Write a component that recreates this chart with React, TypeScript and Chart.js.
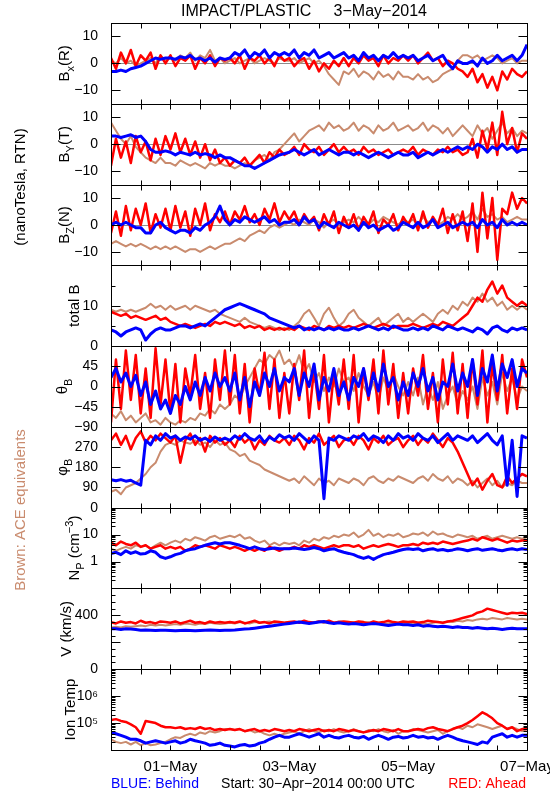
import React, { useEffect, useRef } from 'react';
import { Chart, registerables } from 'chart.js';
Chart.register(...registerables);

const FONT = '"Liberation Sans", Arial, sans-serif';
const RED = '#ff0000';
const BLUE = '#0000ff';
const BROWN = '#c98b6e';

const HOURS = [0,2,4,6,8,10,12,14,16,18,20,22,24,26,28,30,32,34,36,38,40,42,44,46,48,50,52,54,56,58,60,62,64,66,68,70,72,74,76,78,80,82,84,86,88,90,92,94,96,98,100,102,104,106,108,110,112,114,116,118,120,122,124,126,128,130,132,134,136,138,140,142,144,146,148,150,152,154,156,158,160,162,164,166,168];
const X_TICK_HOURS = [12,24,36,48,60,72,84,96,108,120,132,144,156];
const X_LABEL_HOURS = [24,72,120,168];
const X_LABELS = ['01\u2212May','03\u2212May','05\u2212May','07\u2212May'];

const BX_RED = [2,-2,4,0,5,-1,3,1,4,-2,3,0, 3,-1,2,1,3,-2,2,0,3,-1,2,1, 2,0,3,-2,2,1,3,0,2,-1,3,1, 2,-1,1,2,-2,1,-3,0,-2,1,-1,2, -1,2,0,3,1,2,-1,3,0,2,1,3, 1,3,0,2,4,1,2,-1,1,0,-2,-3, -5,-2,-7,-4,-9,-5,-10,-3,-6,-2,-4,-5, -3];
const BX_BLUE = [-3,-3,-2.5,-3,-2,-1.5,-1,0,1,2,1.5,2, 2,1.5,2.5,2,3,1.5,2,1,2,0.5,2,1.5, 2,4,3,5,2,4,3,5,2,4,3,4, 3,5,2,4,3,5,2,3,4,2,3,4, 2,3,1,4,2,3,1,3,2,4,2,3, 2,3,1,2,3,1,2,3,0,-2,1,0, 0,1,-1,2,0,1,3,1,2,3,1,3, 7];
const BX_BROWN = [1,0,2,0,1,-1,0,1,2,0,3,1, 2,1,3,2,4,1,3,2,5,1,2,0, 1,2,0,1,2,0,1,2,1,0,2,1, 1,2,0,1,2,0,1,-1,-4,-6,-8,-3, -4,-2,-5,-3,-4,-6,-3,-5,-4,-6,-3,-5, -5,-6,-4,-6,-5,-7,-6,-4,-3,-2,1,3, 3,2,3,1,2,3,2,0,1,2,0,1, 1];

const BY_RED = [-8,2,-5,1,-7,3,-3,1,-6,2,-4,3, -2,4,-3,2,-4,1,-5,0,-6,-2,-7,-5, -8,-6,-7,-5,-8,-6,-4,-7,-3,-5,-2,-4, -3,-1,-4,0,-2,-3,-1,-4,-2,0,-3,-1, -3,-2,-4,-1,-3,-2,-4,-3,-2,-4,-3,-2, -3,-1,-4,-2,-3,-4,-2,-3,-1,-3,-2,-4, -3,2,-5,5,-2,8,-4,12,0,6,-3,4, 2];
const BY_BLUE = [3,3,2.5,3,3.5,2.5,3,1,-2,-3,-3,-2.5, -3,-4,-3,-3.5,-4,-3,-4,-3.5,-4,-5,-4,-5, -5,-6,-7,-8,-8,-9,-8,-7,-6,-5,-4,-3.5, -3,-2,-3,-4,-3,-2,-4,-3,-2,-3,-4,-3, -3,-4,-3,-4,-5,-4,-3,-4,-5,-4,-3,-4, -4,-3,-5,-4,-3,-4,-3,-2,-3,-2,-1,-2, -1,-2,0,-1,-3,-1,-2,0,-2,-1,-3,-2, -2];
const BY_BROWN = [8,5,2,0,3,-1,-3,-5,-6,-7,-5,-7, -7,-8,-6,-7,-8,-7,-8,-9,-7,-8,-7,-8, -8,-9,-8,-7,-8,-6,-5,-4,-6,-3,-2,0, 2,4,1,3,5,6,7,5,8,6,7,5, 6,8,5,7,6,4,7,5,6,8,5,6, 7,5,6,8,5,7,6,4,6,3,5,7, 5,3,7,4,6,2,5,8,4,6,3,5, 4];

const BZ_RED = [-3,5,-4,7,-2,6,0,8,-3,4,-1,6, -2,7,-1,5,-4,6,0,8,-2,4,1,5, 0,5,2,7,1,4,0,6,2,8,1,5, 2,5,0,4,1,3,-2,4,0,5,-3,3, -1,4,-2,3,0,5,-3,2,0,4,-2,3, 0,4,-2,5,-1,3,0,6,-3,4,-2,5, -6,8,-10,12,-5,10,-13,6,4,12,6,10, 8];
const BZ_BLUE = [0,1,0,1,0,-1,-1,-3,-3,0,1,-1, -2,-3,-2,-2,-3,-1,-2,0,1,3,7,2, 0,2,1,3,2,1,2,3,1,2,0,1, 1,2,0,3,1,2,-1,1,0,-1,1,0, -1,0,-2,1,-1,0,-2,-1,0,-2,-1,1, 0,-1,1,-1,0,2,-1,0,1,-1,0,1, 0,1,-1,2,0,1,-1,2,0,1,0,1, 0];
const BZ_BROWN = [-7,-6,-7,-8,-7,-8,-7,-8,-9,-8,-9,-8, -9,-8,-9,-10,-9,-9,-10,-9,-8,-9,-8,-7, -7,-6,-5,-6,-4,-3,-2,-3,-1,0,-1,0, 1,0,2,1,0,2,1,-1,1,2,0,1, 2,1,3,1,0,2,1,3,2,1,0,2, 1,2,0,3,1,2,0,1,3,2,4,2, 3,5,2,6,3,4,2,3,1,2,3,2, 2];

const BT_RED = [8.5,8,7.5,8,7,7.5,7,6.5,7,7.5,6.5,7, 6,5.5,5,5.5,5,4.5,5,5.5,5,6,5.5,6, 5.5,5,5.5,4.5,5,4.5,5,4,4.5,4,4.5,4, 4.5,4,5,4.5,4,5,4.5,4,5,4.5,5,4.5, 5,4.5,5,5.5,5,4.5,5,5.5,5,4.5,5,5, 5,5.5,5,4.5,5,5.5,5,6,5.5,5,6,7, 8,10,12,11,14,16,13,15,12,11,10,11, 10];
const BT_BLUE = [4,3.5,2.5,3.5,4,4.5,4,1.5,3,4,4.5,4, 4,4.5,5,5,4.5,5,5.5,5,6,7,8,9, 9.5,10,10.5,10,9.5,9,8.5,8,7,6.5,6,5.5, 5,4.5,5,4,4.5,4,4.5,4,4.5,4,4.5,4, 4,4.5,4,4.5,5,4.5,4,4.5,4,5,4.5,4, 4,4.5,4,4.5,4,5,4.5,4,5,4.5,4,4.5, 4,3.5,4.5,4,3,4.5,5,4,3.5,4.5,4,4.5, 4];
const BT_BROWN = [9,8.5,9,8.5,9,8.5,9,9.5,10.5,9.5,10,9, 10,9,9.5,10,9,10,9.5,9,8.5,9,8,7.5, 7,6.5,6,7,6,5.5,5,4.5,5,4.5,4,4.5, 4,5,6,8,9,7,5,8,9.5,7,5,6, 8,9,7,6,5,6,7,5,6,7,8,6, 7,6,7,8,7,6,8,9,8,10,9,11, 10,12,11,13,11,12,10,11,9,10,9,10, 9];

const TH_RED = [-80,60,-50,80,-30,70,-60,40,-70,85,-40,60, -60,50,-80,40,-20,70,-50,30,-70,60,-30,80, -40,70,-60,50,-80,40,-20,75,-50,60,-70,30, -60,50,-30,80,-70,40,-50,70,-80,30,-40,60, -50,70,-80,40,-30,60,-60,80,-40,50,-70,30, -60,40,-20,70,-50,30,-80,60,-40,75,-60,50, -70,60,-40,80,-80,50,-30,70,-60,40,-50,60, 20];
const TH_BLUE = [20,40,10,30,0,25,-20,10,-40,-10,-50,-30, -60,-20,-40,0,-30,10,-20,20,-10,30,0,20, -10,30,-30,20,-45,10,-20,30,0,40,-10,20, 10,40,-20,30,0,50,-30,20,-10,40,-20,10, -30,20,0,40,-20,30,-10,50,0,20,-30,10, -20,30,0,40,-10,20,-30,10,0,50,-10,30, 0,60,-20,40,10,70,-10,50,20,60,0,40, 30];
const TH_BROWN = [-60,-70,-55,-75,-65,-80,-70,-60,-80,-75,-85,-70, -80,-85,-75,-80,-70,-75,-60,-65,-50,-60,-40,-50, -40,-20,-30,0,20,40,60,50,70,60,80,50, 60,40,70,30,50,10,30,-10,20,0,40,10, 20,-10,30,0,-20,10,-30,20,-10,30,0,-20, 10,-20,20,-40,0,-30,10,-50,-20,0,-40,-10, -30,0,-50,20,-20,10,-40,30,-10,20,-30,0, -10];

const PH_RED = [300,330,280,320,260,310,340,290,320,300,330,310, 290,320,200,300,330,280,310,250,320,290,310,280, 300,270,320,290,310,260,300,280,320,300,290,310, 280,320,300,260,310,290,330,280,300,320,270,300, 310,280,320,300,260,310,290,320,280,300,310,270, 300,320,280,310,290,330,300,270,310,290,250,200, 150,100,130,80,120,150,100,90,140,110,130,150, 140];
const PH_BLUE = [125,120,125,118,122,110,100,300,280,320,300,330, 310,320,300,315,305,320,300,310,295,315,300,310, 300,320,305,330,310,300,320,290,315,300,325,310, 320,300,330,310,290,320,300,40,310,300,320,310, 300,320,310,330,300,320,310,290,320,300,330,310, 320,300,330,310,300,320,290,310,330,300,320,310, 300,320,290,310,330,300,280,320,100,300,50,320, 310];
const PH_BROWN = [70,80,60,90,100,110,130,150,180,200,250,280, 290,280,300,290,285,300,280,290,270,300,280,290, 260,250,230,240,210,200,190,170,160,150,140,130, 120,130,110,140,120,100,130,110,120,100,130,120, 110,130,120,100,130,140,120,110,130,120,140,130, 120,110,130,140,120,150,130,120,140,110,130,120, 100,120,90,110,130,100,120,90,110,100,120,110, 110];

const NP_RED = [5,4,5.5,4.5,4,5,3.5,4,3,3.5,4,3, 3.5,3,3.5,2.5,3,4,3.5,4,3.5,3,4,3.5, 3,3.5,3,2.5,3,2.5,3,2.5,3.5,3,2.5,3, 3,3.5,3,4,3.5,4,3.5,3,3.5,4,3.5,4, 4,3.5,4,3,3.5,4,3.5,4,4.5,4,3.5,4, 4,4.5,4,5,4.5,5,4.5,5.5,5,4.5,5,5.5, 6,7,6,8,7,6,7,6,5,6,5.5,6, 6];
const NP_BLUE = [2,2.2,1.8,2.5,2,2.3,1.9,2,2.5,2.2,1.5,1.3, 1.5,1.8,2,2.5,2.8,3,3.5,4,4.5,5,4.5,5, 5,4.5,4,3.5,3,3.5,3,2.8,3,3.2,3,3, 3,3.2,3,2.8,3,3.3,3,2.5,2.8,3,2.5,2.2, 2,1.8,1.5,1.3,1.5,1.2,1.5,1.8,2,2.2,2.5,2.8, 3,2.8,3,2.5,2.8,3,2.6,2.8,2.5,2.7,3,2.8, 2.5,2.8,3,2.6,2.8,3,2.7,2.5,2.8,3,2.7,3, 2.8];
const NP_BROWN = [3,2.5,3,3.5,3,4,3.5,4,3,4,5,4, 5,6,5,7,6,8,7,6,8,9,7,8, 9,8,10,7,8,6,5,6,4,5,4,5, 4.5,5,4,6,5,7,6,8,7,9,8,10, 9,12,8,10,15,9,11,8,10,9,11,8, 9,11,10,12,9,13,10,11,9,8,10,9, 8,9,7,8,9,7,8,9,8,7,8,7, 8];

const V_RED = [350,340,355,345,350,340,360,345,350,340,355,350, 345,355,340,350,360,345,350,340,355,345,350,345, 350,345,355,340,350,360,345,350,340,355,350,345, 350,355,345,360,350,345,355,350,360,345,350,355, 350,345,355,350,340,355,345,350,360,350,345,355, 350,355,345,350,360,355,350,345,355,360,370,380, 390,400,420,430,450,440,430,420,410,420,415,420, 410];
const V_BLUE = [300,300,295,300,298,295,290,292,290,288,290,290, 288,285,288,290,288,285,288,290,292,290,288,290, 290,292,295,298,300,305,310,315,320,325,330,335, 340,345,350,345,340,345,350,355,345,340,345,340, 335,340,335,330,335,340,335,330,325,330,335,330, 330,325,330,320,325,320,315,320,315,310,315,310, 310,305,310,305,300,305,300,295,300,305,300,300, 300];
const V_BROWN = [310,315,310,320,315,320,325,320,330,325,330,325, 330,335,330,340,335,330,340,335,345,340,335,340, 345,340,350,345,340,350,345,350,355,345,350,345, 350,345,355,350,345,350,355,345,350,345,355,350, 345,350,340,345,350,340,345,335,340,345,340,335, 340,335,345,340,335,345,350,345,355,350,360,355, 365,360,370,375,370,380,375,370,380,375,370,375, 370];

const T_RED = [1.3e5,1.4e5,1.2e5,1.1e5,9e4,7e4,4e4,1.2e5,1.1e5,1e5,8e4,7e4, 7e4,6.5e4,7e4,6e4,6.5e4,6e4,7e4,6e4,6.5e4,5.5e4,6e4,5.5e4, 6e4,5.5e4,6e4,5e4,5.5e4,6e4,5e4,5.5e4,5e4,6e4,5.5e4,5e4, 5.5e4,5e4,6e4,5.5e4,5e4,5.5e4,6e4,5e4,5.5e4,5e4,6e4,5.5e4, 5e4,5.5e4,5e4,4.5e4,5e4,5.5e4,5e4,6e4,5.5e4,5e4,6e4,5e4, 5e4,5.5e4,6e4,5.5e4,6.5e4,7e4,6e4,5.5e4,5e4,6e4,7e4,8e4, 1e5,1.3e5,1.8e5,2.5e5,2e5,1.5e5,1e5,8e4,6e4,7e4,5e4,6e4, 6e4];
const T_BLUE = [4.5e4,4e4,3.5e4,3e4,2.5e4,2.5e4,2.2e4,1.8e4,2e4,2.2e4,2e4,1.8e4, 2e4,2.2e4,1.8e4,2e4,2.5e4,2.2e4,2e4,1.8e4,1.5e4,1.6e4,1.8e4,1.5e4, 1.4e4,1.3e4,1.5e4,1.6e4,1.4e4,1.5e4,1.8e4,2e4,2.5e4,3e4,3.5e4,3e4, 3e4,3.5e4,4e4,3.5e4,3e4,3.5e4,4e4,3e4,3.5e4,3e4,2.8e4,3.2e4, 3.5e4,3e4,2.8e4,3.2e4,2.5e4,3e4,3.5e4,3e4,2.5e4,3e4,3.2e4,2.8e4, 3e4,3.5e4,3e4,3.2e4,2.8e4,3e4,2.5e4,3e4,3.5e4,3e4,2.5e4,2.2e4, 2e4,1.8e4,1.6e4,2e4,1.8e4,3e4,3.5e4,4e4,3e4,3.5e4,3e4,3.5e4, 3.5e4];
const T_BROWN = [2.5e4,2e4,1.8e4,2e4,1.6e4,2e4,1.5e4,1.8e4,1.5e4,1.6e4,1.8e4,2e4, 2.5e4,3e4,2.8e4,3.5e4,4e4,3.5e4,4.5e4,4e4,5e4,4.5e4,5e4,6e4, 6e4,5.5e4,6e4,5e4,5.5e4,4.5e4,5e4,4e4,3.5e4,4e4,3.5e4,4e4, 4.5e4,5e4,4e4,5e4,6e4,5e4,4.5e4,5.5e4,5e4,6e4,5e4,4.5e4, 5e4,6e4,5e4,4.5e4,5.5e4,5e4,6e4,5e4,4.5e4,5.5e4,4e4,5e4, 5e4,6e4,5.5e4,5e4,4.5e4,5e4,5.5e4,4e4,5e4,6e4,7e4,6e4, 8e4,7e4,9e4,8e4,7e4,6e4,7e4,8e4,6e4,7e4,6e4,5e4, 6e4];

const LOG_MINOR_NP = [0.2,0.3,0.4,0.5,0.6,0.7,0.8,0.9,2,3,4,5,6,7,8,9,20,30,40,50,60,70,80,90];
const LOG_MINOR_T = [2e4,3e4,4e4,5e4,6e4,7e4,8e4,9e4,2e5,3e5,4e5,5e5,6e5,7e5,8e5,9e5,2e6,3e6,4e6,5e6,6e6,7e6,8e6,9e6];

type Part = [string, string?];
interface Panel { type: string; min: number; max: number; labels: number[]; major: number[]; minor: number[]; zero?: boolean; title: Part[]; tx: number; series: number[][]; fmt?: (v: number) => string; }

const sup = (v: number) => (v === 1e5 ? '10\u2075' : v === 1e6 ? '10\u2076' : String(v));

const PANELS: Panel[] = [
  { type: 'linear', min: -15, max: 15, labels: [-10, 0, 10], major: [-10, 0, 10], minor: [], zero: true, title: [['B'], ['x', 'sub'], ['(R)']], tx: 64, series: [BX_BLUE, BX_RED, BX_BROWN] },
  { type: 'linear', min: -15, max: 15, labels: [-10, 0, 10], major: [-10, 0, 10], minor: [], zero: true, title: [['B'], ['Y', 'sub'], ['(T)']], tx: 64, series: [BY_BLUE, BY_RED, BY_BROWN] },
  { type: 'linear', min: -15, max: 15, labels: [-10, 0, 10], major: [-10, 0, 10], minor: [], zero: true, title: [['B'], ['Z', 'sub'], ['(N)']], tx: 64, series: [BZ_BLUE, BZ_RED, BZ_BROWN] },
  { type: 'linear', min: 0, max: 20, labels: [0, 10], major: [0, 10, 20], minor: [5, 15], title: [['total B']], tx: 74, series: [BT_BLUE, BT_RED, BT_BROWN] },
  { type: 'linear', min: -90, max: 90, labels: [-90, -45, 0, 45], major: [-90, -45, 0, 45, 90], minor: [], title: [['\u03b8'], ['B', 'sub']], tx: 62, series: [TH_BLUE, TH_RED, TH_BROWN] },
  { type: 'linear', min: 0, max: 360, labels: [0, 90, 180, 270], major: [0, 90, 180, 270, 360], minor: [], title: [['\u03c6'], ['B', 'sub']], tx: 62, series: [PH_BLUE, PH_RED, PH_BROWN] },
  { type: 'logarithmic', min: 0.1, max: 100, labels: [1, 10], major: [0.1, 1, 10, 100], minor: LOG_MINOR_NP, title: [['N'], ['P', 'sub'], [' (cm'], ['\u22123', 'sup'], [')']], tx: 74, series: [NP_BLUE, NP_RED, NP_BROWN] },
  { type: 'linear', min: 0, max: 600, labels: [0, 400], major: [0, 200, 400, 600], minor: [50, 100, 150, 250, 300, 350, 450, 500, 550], title: [['V (km/s)']], tx: 66, series: [V_BLUE, V_RED, V_BROWN] },
  { type: 'logarithmic', min: 1e4, max: 1e7, labels: [1e5, 1e6], major: [1e4, 1e5, 1e6, 1e7], minor: LOG_MINOR_T, title: [['Ion Temp']], tx: 70, series: [T_BLUE, T_RED, T_BROWN], fmt: sup },
];

const COLORS = [BLUE, RED, BROWN];
const WIDTHS = [3, 2.5, 2];

function drawRich(ctx: CanvasRenderingContext2D, cx: number, cy: number, parts: Part[], size: number, color: string) {
  const small = Math.round(size * 0.7);
  ctx.save();
  ctx.fillStyle = color;
  ctx.textBaseline = 'alphabetic';
  ctx.textAlign = 'left';
  let total = 0;
  const widths = parts.map(([t, k]) => {
    ctx.font = `${k ? small : size}px ${FONT}`;
    const w = ctx.measureText(t).width;
    total += w;
    return w;
  });
  ctx.translate(cx, cy);
  ctx.rotate(-Math.PI / 2);
  let x = -total / 2;
  const base = size * 0.36;
  parts.forEach(([t, k], i) => {
    ctx.font = `${k ? small : size}px ${FONT}`;
    const dy = k === 'sub' ? base + size * 0.3 : k === 'sup' ? base - size * 0.45 : base;
    ctx.fillText(t, x, dy);
    x += widths[i];
  });
  ctx.restore();
}

function line(ctx: CanvasRenderingContext2D, x1: number, y1: number, x2: number, y2: number) {
  ctx.beginPath();
  ctx.moveTo(x1, y1);
  ctx.lineTo(x2, y2);
  ctx.stroke();
}

const decor = {
  id: 'decor',
  beforeDatasetsDraw(chart: any) {
    const ctx = chart.ctx as CanvasRenderingContext2D;
    const xs = chart.scales.x;
    ctx.save();
    ctx.strokeStyle = '#8c8c8c';
    ctx.lineWidth = 1;
    PANELS.forEach((p, i) => {
      if (!p.zero) return;
      const s = chart.scales['y' + i];
      const y = Math.round(s.getPixelForValue(0)) + 0.5;
      line(ctx, xs.left, y, xs.right, y);
    });
    ctx.restore();
  },
  afterDraw(chart: any) {
    const ctx = chart.ctx as CanvasRenderingContext2D;
    const xs = chart.scales.x;
    const L = Math.round(xs.left) + 0.5;
    const R = Math.round(xs.right) + 0.5;
    ctx.save();
    ctx.strokeStyle = '#000';
    ctx.lineWidth = 1;
    PANELS.forEach((p, i) => {
      const s = chart.scales['y' + i];
      const T = Math.round(s.top) + 0.5;
      const B = Math.round(s.bottom) + 0.5;
      ctx.strokeRect(L, T, R - L, B - T);
      X_TICK_HOURS.forEach((h) => {
        const px = Math.round(xs.getPixelForValue(h)) + 0.5;
        line(ctx, px, T, px, T + 5);
        line(ctx, px, B, px, B - 5);
      });
      p.major.forEach((v) => {
        const py = Math.round(s.getPixelForValue(v)) + 0.5;
        line(ctx, L, py, L + 9, py);
        line(ctx, R, py, R - 9, py);
      });
      p.minor.forEach((v) => {
        const py = Math.round(s.getPixelForValue(v)) + 0.5;
        line(ctx, L, py, L + 4, py);
        line(ctx, R, py, R - 4, py);
      });
      drawRich(ctx, p.tx, (s.top + s.bottom) / 2, p.title, 15, '#000');
    });
    ctx.fillStyle = '#000';
    ctx.textBaseline = 'middle';
    ctx.textAlign = 'center';
    ctx.font = `15px ${FONT}`;
    X_LABEL_HOURS.forEach((h, i) => {
      ctx.fillText(X_LABELS[i], xs.getPixelForValue(h), 767);
    });
    ctx.font = `16px ${FONT}`;
    ctx.fillText('IMPACT/PLASTIC     3\u2212May\u22122014', 304, 12);
    ctx.font = `14px ${FONT}`;
    ctx.textAlign = 'left';
    ctx.fillStyle = BLUE;
    ctx.fillText('BLUE: Behind', 111, 784);
    ctx.fillStyle = '#000';
    ctx.textAlign = 'center';
    ctx.fillText('Start: 30\u2212Apr\u22122014 00:00 UTC', 318, 784);
    ctx.fillStyle = RED;
    ctx.textAlign = 'right';
    ctx.fillText('RED: Ahead', 526, 784);
    drawRich(ctx, 20, 187, [['(nanoTesla, RTN)']], 15, '#000');
    drawRich(ctx, 20, 510, [['Brown: ACE equivalents']], 15, BROWN);
    ctx.restore();
  },
};

export default function App() {
  const ref = useRef<HTMLCanvasElement | null>(null);
  useEffect(() => {
    if (!ref.current) return;
    const scales: any = {
      x: {
        type: 'linear', min: 0, max: 168, position: 'bottom',
        grid: { display: false }, border: { display: false }, ticks: { display: false },
        afterFit: (s: any) => { s.height = 50; },
      },
    };
    const datasets: any[] = [];
    PANELS.forEach((p, i) => {
      scales['y' + i] = {
        type: p.type, min: p.min, max: p.max, position: 'left', stack: 'panels', stackWeight: 1, weight: 20 - i,
        grid: { display: false }, border: { display: false },
        ticks: {
          autoSkip: false, padding: 5, color: '#000', font: { family: FONT, size: 14 },
          callback: (v: any) => (p.fmt ? p.fmt(Number(v)) : String(v).replace('-', '\u2212')),
        },
        afterBuildTicks: (s: any) => { s.ticks = p.labels.map((v) => ({ value: v })); },
        afterFit: (s: any) => { s.width = 111; },
      };
      p.series.forEach((d, k) => {
        datasets.push({
          data: HOURS.map((h, j) => ({ x: h, y: d[j] })),
          yAxisID: 'y' + i,
          borderColor: COLORS[k],
          backgroundColor: COLORS[k],
          borderWidth: WIDTHS[k],
          pointRadius: 0,
          borderJoinStyle: 'round',
          tension: 0,
          order: k,
        });
      });
    });
    const chart = new Chart(ref.current, {
      type: 'line',
      data: { datasets },
      options: {
        responsive: false,
        animation: false,
        devicePixelRatio: 1,
        parsing: false as any,
        normalized: true,
        layout: { padding: { top: 23, right: 23, left: 0, bottom: 0 } },
        plugins: { legend: { display: false }, tooltip: { enabled: false }, title: { display: false } },
        scales,
      },
      plugins: [decor],
    });
    return () => chart.destroy();
  }, []);
  return (
    <div style={{ position: 'absolute', left: 0, top: 0, width: 550, height: 800, background: '#fff' }}>
      <canvas ref={ref} width={550} height={800} style={{ display: 'block' }} />
    </div>
  );
}
